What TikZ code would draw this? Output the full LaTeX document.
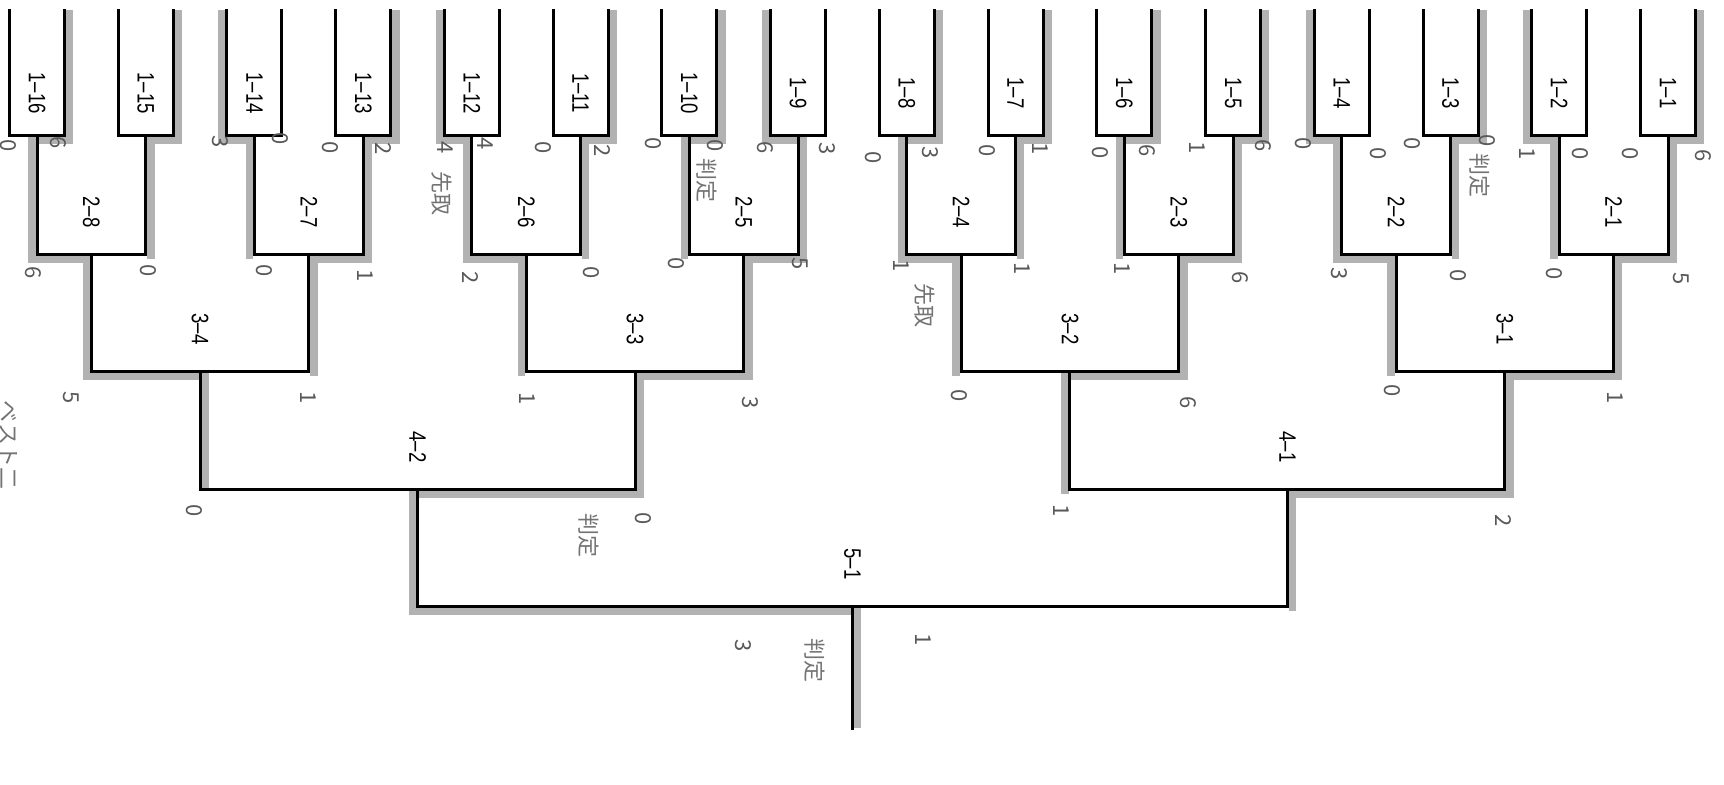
\documentclass[tikz,border=0pt]{standalone}
\usepackage{fontspec}
\usetikzlibrary{calc}
\newfontfamily\labfont[FakeStretch=0.78]{Liberation Sans}
\newfontfamily\handfont{Noto Sans CJK JP}
\begin{document}
\begin{tikzpicture}[x=0.5pt,y=-0.5pt,
  bk/.style={line width=1.5pt, line join=miter, line cap=rect},
  hl/.style={line width=3.8pt, black!30, line cap=butt, line join=miter},
  lab/.style={font=\labfont\fontsize{11.9}{12}\selectfont, rotate=-90, inner sep=0pt},
  sc/.style={font=\handfont\fontsize{11}{11}\selectfont, rotate=-90, inner sep=0pt, text=black!65},
  kj/.style={font=\handfont\fontsize{11}{11}\selectfont, rotate=-90, inner sep=0pt, text=black!55}]
\useasboundingbox (0,0) rectangle (1724,784);
\fill[white] (0,0) rectangle (1724,784);
% geometry
\foreach \r/\n/\h/\yt/\yb in {1/16/27.5/10/135, 2/8/54.37/135/254, 3/4/108.73/254/371, 4/2/217.47/371/489, 5/1/434.93/489/606} {
  \foreach \j in {1,...,\n} {
    \pgfmathsetmacro\cx{1668-((\j-0.5)*2^(\r-1)-0.5)*108.733}
    \coordinate (m\r-\j) at (\cx,\yb);
    \coordinate (m\r-\j-L) at (\cx-\h,\yt);
    \coordinate (m\r-\j-R) at (\cx+\h,\yt);
  }
}
\coordinate (end) at ($(m5-1)+(0,122)$);
% pencil highlights: winner on the left
\foreach \r/\j in {1/2,1/4,1/9,1/12,1/14,2/2,2/4,2/6,2/8,3/4,5/1}
  \draw[hl] ($(m\r-\j-L)+(-5,0)$) |- ($(m\r-\j)+(0,5)$);
% winner on the right
\foreach \r/\j in {1/1,1/3,1/5,1/6,1/7,1/8,1/10,1/11,1/13,1/15,1/16,2/1,2/3,2/5,2/7,3/1,3/2,3/3,4/1,4/2}
  \draw[hl] ($(m\r-\j-R)+(5,0)$) |- ($(m\r-\j)+(0,5)$);
% other side verticals of later rounds
\foreach \r/\j in {2/2,2/4,2/6,2/8,3/4,5/1}
  \draw[hl] ($(m\r-\j-R)+(5,0)$) -- ($(m\r-\j-R |- m\r-\j)+(5,5)$);
\foreach \r/\j in {2/1,2/3,2/5,2/7,3/1,3/2,3/3,4/1}
  \draw[hl] ($(m\r-\j-L)+(-5,0)$) -- ($(m\r-\j-L |- m\r-\j)+(-5,5)$);
\draw[hl] ($(m4-2-L)+(5,0)$) -- ($(m4-2-L |- m4-2)+(5,0)$);
\draw[hl] ($(m5-1)+(5,0)$) -- ($(end)+(5,0)$);
% black bracket lines
\foreach \r/\n in {1/16,2/8,3/4,4/2,5/1}
  \foreach \j in {1,...,\n}
    \draw[bk] (m\r-\j-L) |- (m\r-\j) -| (m\r-\j-R);
\draw[bk] (m5-1) -- (end);
% printed match labels
\foreach \r/\n in {1/16,2/8,3/4,4/2,5/1}
  \foreach \j in {1,...,\n}
    \node[lab] (l\r-\j) at ($(m\r-\j)+(0,-42)$) {\r–\j};
% handwritten scores
\foreach \x/\y/\t [count=\i] in {
  8/146/0, 58/143/6, 220/142/3, 280/139/0, 330/148/0, 383/149/2,
  445/148/4, 485/144/4, 543/148/0, 602/151/2, 653/144/0, 715/146/0,
  765/148/6, 827/149/3, 873/158/0, 930/153/3, 987/151/0, 1040/149/1,
  1100/153/0, 1147/151/6, 1197/148/1, 1263/146/6, 1303/144/0, 1378/154/0,
  1412/144/0, 1487/141/0, 1527/154/1, 1580/154/0, 1630/154/0, 1703/156/6,
  33/273/6, 148/271/0, 264/271/0, 365/276/1, 470/278/2, 591/273/0,
  676/264/0, 800/264/5, 901/266/1, 1022/269/1, 1122/269/1, 1240/278/6,
  1339/274/3, 1458/276/0, 1554/274/0, 1681/279/5,
  71/398/5, 308/398/1, 527/399/1, 750/403/3, 959/396/0, 1188/403/6,
  1392/391/0, 1615/398/1,
  194/511/0, 643/519/0, 1061/511/1, 1503/521/2,
  743/646/3, 923/640/1}
  \node[sc] (s\i) at (\x,\y) {\t};
% handwritten notes
\node[kj] (n1) at (442,193) {先取};
\node[kj] (n2) at (707,180) {判定};
\node[kj] (n3) at (1480,175) {判定};
\node[kj] (n4) at (925,305) {先取};
\node[kj] (n5) at (589,535) {判定};
\node[kj] (n6) at (815,660) {判定};
\node[kj] (n7) at (9,445) {ベスト二};
\end{tikzpicture}
\end{document}
